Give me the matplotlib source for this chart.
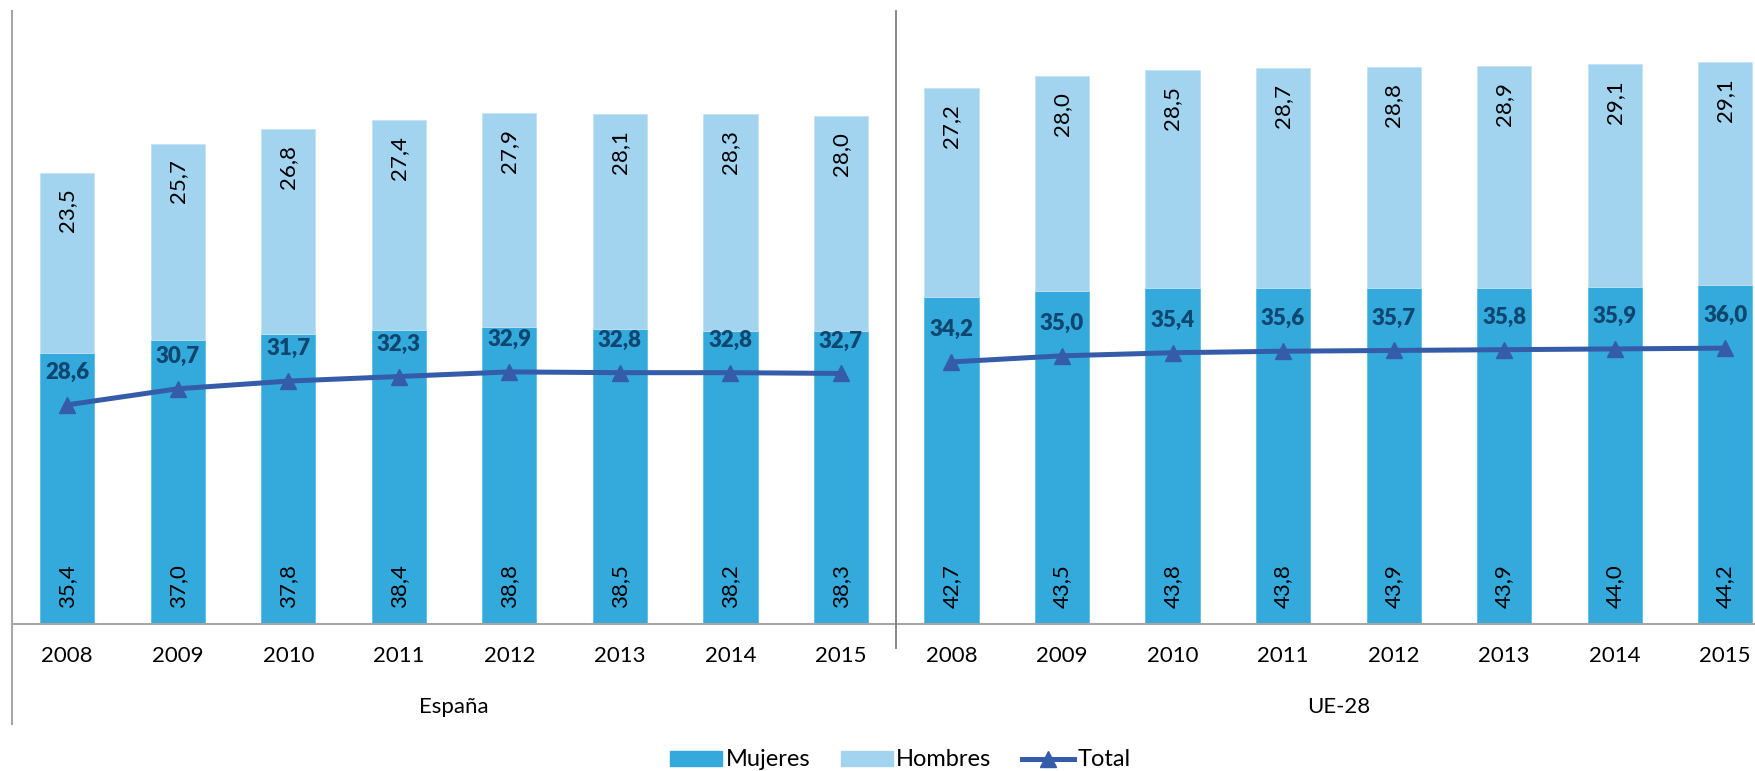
import matplotlib.pyplot as plt
from matplotlib.lines import Line2D
from matplotlib.patches import Patch
from matplotlib.transforms import offset_copy

years = ["2008", "2009", "2010", "2011", "2012", "2013", "2014", "2015"]
groups = ["España", "UE-28"]

esp_mujeres = [35.4, 37.0, 37.8, 38.4, 38.8, 38.5, 38.2, 38.3]
esp_hombres = [23.5, 25.7, 26.8, 27.4, 27.9, 28.1, 28.3, 28.0]
esp_total = [28.6, 30.7, 31.7, 32.3, 32.9, 32.8, 32.8, 32.7]

ue_mujeres = [42.7, 43.5, 43.8, 43.8, 43.9, 43.9, 44.0, 44.2]
ue_hombres = [27.2, 28.0, 28.5, 28.7, 28.8, 28.9, 29.1, 29.1]
ue_total = [34.2, 35.0, 35.4, 35.6, 35.7, 35.8, 35.9, 36.0]

C_MUJ = "#34AADC"
C_HOM = "#A2D3EF"
C_TOT = "#355CA8"
C_TOT_LBL = "#0E4670"
C_AXIS = "#A6A6A6"

plt.rcParams["font.family"] = ["Lato", "DejaVu Sans"]


def fmt(v):
    return f"{v:.1f}".replace(".", ",")


def main():
    W, H = 1755, 771
    fig = plt.figure(figsize=(W / 100, H / 100), dpi=100)
    ax = fig.add_axes([12 / W, (H - 624) / H, 1 - 12 / W, (624 - 11) / H])

    mujeres = esp_mujeres + ue_mujeres
    hombres = esp_hombres + ue_hombres
    x = list(range(len(mujeres)))

    ax.bar(x, mujeres, width=0.49, color=C_MUJ, edgecolor="#5DBBE4", linewidth=0.6)
    ax.bar(x, hombres, width=0.49, bottom=mujeres, color=C_HOM,
           edgecolor="#C4E3F5", linewidth=0.6)

    n = len(years)
    ax.plot(x[:n], esp_total, color=C_TOT, lw=3.6, marker="^", ms=12,
            zorder=4, clip_on=False)
    ax.plot(x[n:], ue_total, color=C_TOT, lw=3.6, marker="^", ms=12,
            zorder=4, clip_on=False)

    up = offset_copy(ax.transData, fig=fig, x=0, y=22, units="dots")
    bot = offset_copy(ax.transData, fig=fig, x=0, y=16, units="dots")
    top = offset_copy(ax.transData, fig=fig, x=0, y=-16, units="dots")
    for xi, m, h, t in zip(x, mujeres, hombres, esp_total + ue_total):
        ax.text(xi, 0, fmt(m), rotation=90, ha="center", va="bottom",
                fontsize=16, color="black", transform=bot)
        ax.text(xi, m + h, fmt(h), rotation=90, ha="center", va="top",
                fontsize=16, color="black", transform=top)
        ax.text(xi, t, fmt(t), ha="center", va="bottom", fontsize=16,
                fontweight="heavy", color=C_TOT_LBL, transform=up, zorder=5)

    ax.set_ylim(0, 80)
    ax.set_xlim(-0.5, 15.27)
    ax.set_xticks(x)
    ax.set_xticklabels(years * 2, fontsize=16)
    ax.tick_params(axis="x", length=0, pad=16)
    ax.set_yticks([])
    for s in ["top", "right", "left"]:
        ax.spines[s].set_visible(False)
    ax.spines["bottom"].set_color(C_AXIS)
    ax.spines["bottom"].set_linewidth(1.5)

    # left axis line running down past group labels
    fig.add_artist(Line2D([12 / W, 12 / W], [(H - 724) / H, (H - 11) / H],
                          color=C_AXIS, lw=1.5))
    # separator between groups
    xs = ax.transData.transform((7.5, 0))[0] / W
    fig.add_artist(Line2D([xs, xs], [(H - 648) / H, (H - 11) / H],
                          color="#7F7F7F", lw=1.3))

    for gi, g in enumerate(groups):
        cx = gi * n + (n - 1) / 2
        ax.text(cx, 0, g, ha="center", va="center", fontsize=16,
                transform=offset_copy(ax.transData, fig=fig, x=0, y=-(707 - 624),
                                      units="dots"))

    handles = [Patch(color=C_MUJ, label="Mujeres"),
               Patch(color=C_HOM, label="Hombres"),
               Line2D([], [], color=C_TOT, lw=3.6, marker="^", ms=12, label="Total")]
    fig.legend(handles=handles, loc="center", bbox_to_anchor=(0.513, (H - 760) / H),
               ncol=3, frameon=False, fontsize=17, handlelength=2.2,
               handleheight=0.6, handletextpad=0.15, columnspacing=1.3)

    fig.savefig("out.png", dpi=100)


if __name__ == "__main__":
    main()
